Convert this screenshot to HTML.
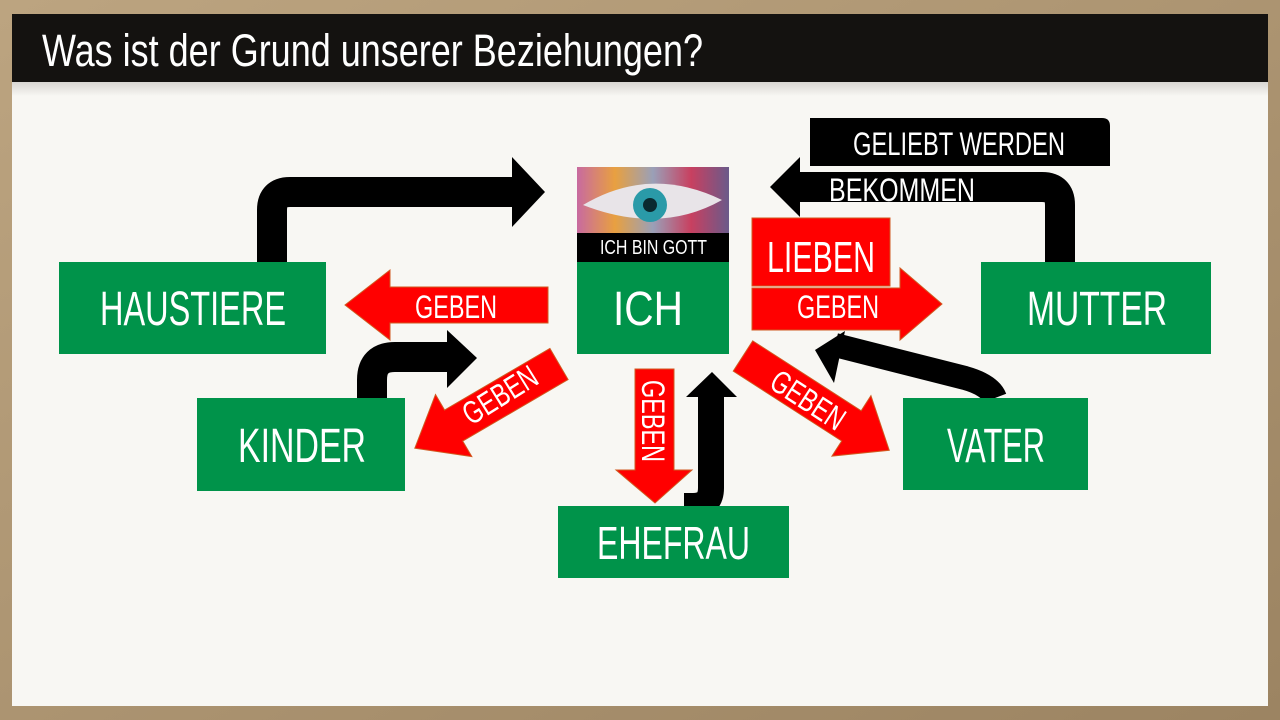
<!DOCTYPE html>
<html><head><meta charset="utf-8"><style>
html,body{margin:0;padding:0;width:1280px;height:720px;overflow:hidden;background:#b49c78}
svg{display:block}
text{font-family:"Liberation Sans Narrow","Liberation Sans",sans-serif;fill:#fff}
</style></head><body>
<svg width="1280" height="720" viewBox="0 0 1280 720">
<defs>
<linearGradient id="fr" x1="0" y1="0" x2="1" y2="1"><stop offset="0" stop-color="#bca480"/><stop offset="1" stop-color="#9c8462"/></linearGradient>
<linearGradient id="sh" x1="0" y1="0" x2="0" y2="1"><stop offset="0" stop-color="#d8d6d2"/><stop offset="1" stop-color="#f8f7f3"/></linearGradient>
<linearGradient id="eyebg" x1="0" y1="0" x2="1" y2="0"><stop offset="0" stop-color="#c86aa0"/><stop offset=".25" stop-color="#e8a040"/><stop offset=".5" stop-color="#9aa0b8"/><stop offset=".75" stop-color="#c84060"/><stop offset="1" stop-color="#6a5a8a"/></linearGradient>
</defs>
<rect width="1280" height="720" fill="url(#fr)"/>
<rect x="12" y="14" width="1256" height="692" fill="#f8f7f3"/>
<rect x="12" y="82" width="1256" height="14" fill="url(#sh)"/>
<rect x="12" y="14" width="1256" height="68" fill="#141210"/>
<text x="42" y="66" font-size="45" textLength="661" lengthAdjust="spacingAndGlyphs">Was ist der Grund unserer Beziehungen?</text>

<path d="M272 262 V210 Q272 192 290 192 H515" fill="none" stroke="#000" stroke-width="30"/>
<polygon points="512,157 545,192 512,227" fill="#000"/>
<path d="M1060 262 V205 Q1060 187 1042 187 H795" fill="none" stroke="#000" stroke-width="30"/>
<polygon points="800,157 770,187 800,217" fill="#000"/>
<path d="M810 118 H1102 Q1110 118 1110 126 V166 H810 Z" fill="#000"/>
<path d="M372 398 V380 Q372 357 395 357 H450" fill="none" stroke="#000" stroke-width="30"/>
<polygon points="447,330 477,358 447,388" fill="#000"/>
<path d="M711 395 V488 Q711 506 693 506 H684" fill="none" stroke="#000" stroke-width="26"/>
<polygon points="686,397 712,372 737,397" fill="#000"/>
<path d="M995 398 Q990 385 965 378 L835 345" fill="none" stroke="#000" stroke-width="24"/>
<polygon points="845,331 815,350 834,383" fill="#000"/>

<text x="853" y="155" font-size="32" textLength="212" lengthAdjust="spacingAndGlyphs">GELIEBT WERDEN</text>
<text x="829" y="201" font-size="32" textLength="146" lengthAdjust="spacingAndGlyphs">BEKOMMEN</text>

<g fill="#00934a">
<rect x="59" y="262" width="267" height="92"/>
<rect x="577" y="262" width="152" height="92"/>
<rect x="981" y="262" width="230" height="92"/>
<rect x="197" y="398" width="208" height="93"/>
<rect x="903" y="398" width="185" height="92"/>
<rect x="558" y="506" width="231" height="72"/>
</g>
<text x="100" y="325" font-size="48" textLength="186" lengthAdjust="spacingAndGlyphs">HAUSTIERE</text>
<text x="613" y="325" font-size="48" textLength="70" lengthAdjust="spacingAndGlyphs">ICH</text>
<text x="1027" y="325" font-size="48" textLength="140" lengthAdjust="spacingAndGlyphs">MUTTER</text>
<text x="238" y="462" font-size="48" textLength="128" lengthAdjust="spacingAndGlyphs">KINDER</text>
<text x="947" y="462" font-size="48" textLength="98" lengthAdjust="spacingAndGlyphs">VATER</text>
<text x="597" y="559" font-size="46" textLength="153" lengthAdjust="spacingAndGlyphs">EHEFRAU</text>

<rect x="577" y="167" width="152" height="67" fill="url(#eyebg)"/>
<path d="M583 205 Q650 165 722 200 Q660 235 583 205Z" fill="#e8e4e8"/>
<circle cx="650" cy="205" r="17" fill="#2a9aa8"/>
<circle cx="650" cy="205" r="7" fill="#0a2a30"/>
<rect x="577" y="233" width="152" height="29" fill="#000"/>
<text x="600" y="254" font-size="20" textLength="107" lengthAdjust="spacingAndGlyphs">ICH BIN GOTT</text>

<g fill="#ff0000" stroke="#d05a20" stroke-width="1">
<polygon points="548,287 390,287 390,270 345,305 390,340 390,323 548,323"/>
<rect x="752" y="218" width="138" height="68"/>
<polygon points="752,288 900,288 900,268 942,304 900,340 900,330 752,330"/>
<polygon points="635,369 674,369 674,470 692,470 655,503 616,470 635,470"/>
<g transform="translate(559,364) rotate(149.7)"><polygon points="0,-18 122,-18 122,-36 167,0 122,36 122,18 0,18"/></g>
<g transform="translate(743,356) rotate(32.8)"><polygon points="0,-18 129,-18 129,-36 174,0 129,36 129,18 0,18"/></g>
</g>
<text x="767" y="272" font-size="44" textLength="108" lengthAdjust="spacingAndGlyphs">LIEBEN</text>
<text x="415" y="318" font-size="32" textLength="82" lengthAdjust="spacingAndGlyphs">GEBEN</text>
<text x="797" y="318" font-size="32" textLength="82" lengthAdjust="spacingAndGlyphs">GEBEN</text>
<text transform="translate(642,380) rotate(90)" font-size="32" textLength="82" lengthAdjust="spacingAndGlyphs" x="0" y="0">GEBEN</text>
<text transform="translate(500,395) rotate(-32)" text-anchor="middle" font-size="32" x="0" y="11" textLength="82" lengthAdjust="spacingAndGlyphs">GEBEN</text>
<text transform="translate(808,400) rotate(33)" text-anchor="middle" font-size="32" x="0" y="11" textLength="82" lengthAdjust="spacingAndGlyphs">GEBEN</text>
</svg>
</body></html>
